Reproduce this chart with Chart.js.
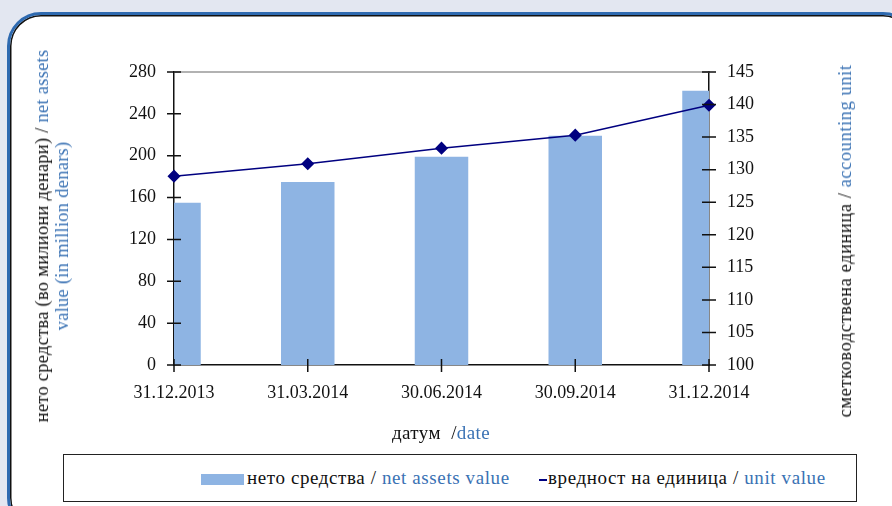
<!DOCTYPE html>
<html lang="mk">
<head>
  <meta charset="UTF-8" />
  <title>Net assets and unit value</title>
  <script src="https://cdn.jsdelivr.net/npm/chart.js"></script>
  <style>
    html, body {
      margin: 0;
      padding: 0;
      width: 892px;
      height: 506px;
      background: #e3e7f1;
      overflow: hidden;
      font-family: "Liberation Serif", serif;
    }
    .panel {
      position: absolute;
      left: 7px;
      top: 12px;
      width: 910px;
      height: 520px;
      background: #fff;
      border: 3px solid #2e6ab0;
      border-radius: 34px;
      box-shadow: inset 0 0 0 1.5px #111;
      box-sizing: border-box;
    }
    canvas#fundChart {
      position: absolute;
      left: 0;
      top: 0;
    }
    .blue { color: #3a72b4; }
    .rot {
      position: absolute;
      transform: translate(-50%, -50%) rotate(-90deg);
      white-space: nowrap;
      text-align: center;
      font-size: 18.5px;
      color: #111;
      line-height: 20px;
    }
    .xtitle {
      position: absolute;
      left: 441px;
      top: 433px;
      transform: translate(-50%, -50%);
      font-size: 19px;
      letter-spacing: 0.4px;
      color: #111;
      white-space: nowrap;
    }
    .legend {
      position: absolute;
      left: 63px;
      top: 454px;
      width: 794px;
      height: 48px;
      border: 1.5px solid #222;
      box-sizing: border-box;
      background: #fff;
    }
    .legend .item {
      position: absolute;
      top: 50%;
      transform: translateY(-50%);
      font-size: 19px;
      letter-spacing: 0.6px;
      color: #111;
      white-space: nowrap;
    }
    .swatch {
      display: inline-block;
      width: 43px;
      height: 11px;
      background: #8eb4e3;
      vertical-align: middle;
      margin-right: 3px;
    }
    .dash {
      display: inline-block;
      width: 8px;
      height: 2px;
      background: #000080;
      vertical-align: middle;
      margin-right: 1px;
    }
  </style>
</head>
<body>
  <div class="panel"></div>
  <canvas id="fundChart" width="892" height="506"></canvas>

  <div class="rot" style="left:52px; top:236px; letter-spacing:0.25px;">
    нето средства (во милиони денари) / <span class="blue">net assets</span><br>
    <span class="blue">value (in million denars)</span>
  </div>
  <div class="rot" style="left:845px; top:241px; letter-spacing:0.55px;">
    сметководствена единица / <span class="blue">accounting unit</span>
  </div>
  <div class="xtitle">датум &nbsp;/<span class="blue">date</span></div>

  <div class="legend">
    <div class="item" style="left:137px;"><span class="swatch"></span>нето средства / <span class="blue">net assets value</span></div>
    <div class="item" style="left:475px;"><span class="dash"></span>вредност на единица / <span class="blue">unit value</span></div>
  </div>

  <script>
    const dates = ["31.12.2013", "31.03.2014", "30.06.2014", "30.09.2014", "31.12.2014"];
    const netAssets = [155, 175, 199, 219, 262];
    const unitValue = [129.0, 130.9, 133.3, 135.3, 139.9];

    Chart.defaults.font.family = '"Liberation Serif", serif';
    Chart.defaults.font.size = 18;
    Chart.defaults.color = '#111';

    // chart area fixed to match the original plot box
    const AREA = { left: 174, right: 709, top: 72, bottom: 365 };

    // ticks that cross the axis lines, plus the grey top border
    const crossTicks = {
      id: 'crossTicks',
      afterDatasetsDraw(chart) {
        const ctx = chart.ctx;
        const a = chart.chartArea;
        ctx.save();
        ctx.strokeStyle = '#999';
        ctx.lineWidth = 1.5;
        ctx.beginPath();
        ctx.moveTo(a.left, a.top);
        ctx.lineTo(a.right, a.top);
        ctx.stroke();

        ctx.strokeStyle = '#111';
        ctx.lineWidth = 1.5;
        ctx.beginPath();
        const y = chart.scales.y, y1 = chart.scales.y1, x = chart.scales.x;
        y.ticks.forEach((t, i) => {
          const p = y.getPixelForTick(i);
          ctx.moveTo(a.left - 7, p); ctx.lineTo(a.left + 7, p);
        });
        y1.ticks.forEach((t, i) => {
          const p = y1.getPixelForTick(i);
          ctx.moveTo(a.right - 7, p); ctx.lineTo(a.right + 7, p);
        });
        x.ticks.forEach((t, i) => {
          const p = x.getPixelForTick(i);
          ctx.moveTo(p, a.bottom - 6); ctx.lineTo(p, a.bottom + 7);
        });
        ctx.stroke();
        ctx.restore();
      }
    };

    new Chart(document.getElementById('fundChart'), {
      data: {
        labels: dates,
        datasets: [
          {
            type: 'line',
            label: 'вредност на единица / unit value',
            data: unitValue,
            yAxisID: 'y1',
            borderColor: '#000080',
            backgroundColor: '#000080',
            borderWidth: 1.5,
            pointStyle: 'rectRot',
            pointRadius: 5.5,
            pointBackgroundColor: '#000080',
            pointBorderColor: '#000080',
            tension: 0,
            order: 0
          },
          {
            type: 'bar',
            label: 'нето средства / net assets value',
            data: netAssets,
            yAxisID: 'y',
            backgroundColor: '#8eb4e3',
            categoryPercentage: 1,
            barPercentage: 0.4,
            clip: 0,
            order: 1
          }
        ]
      },
      options: {
        responsive: false,
        animation: false,
        layout: { padding: { left: 0, right: 0, top: AREA.top, bottom: 0 } },
        plugins: { legend: { display: false }, tooltip: { enabled: false } },
        scales: {
          x: {
            offset: false,
            grid: { display: false, drawTicks: false },
            border: { display: true, color: '#111', width: 1.5 },
            ticks: { padding: 17, maxRotation: 0, autoSkip: false },
            afterFit(scale) { scale.height = 506 - AREA.bottom; }
          },
          y: {
            position: 'left',
            min: 0,
            max: 280,
            grid: { display: false, drawTicks: false },
            border: { display: true, color: '#111', width: 1.5 },
            ticks: { stepSize: 40, padding: 18 },
            afterFit(scale) { scale.width = AREA.left; }
          },
          y1: {
            position: 'right',
            min: 100,
            max: 145,
            grid: { display: false, drawTicks: false },
            border: { display: true, color: '#111', width: 1.5 },
            ticks: { stepSize: 5, padding: 18 },
            afterFit(scale) { scale.width = 892 - AREA.right; }
          }
        }
      },
      plugins: [crossTicks]
    });
  </script>
</body>
</html>
